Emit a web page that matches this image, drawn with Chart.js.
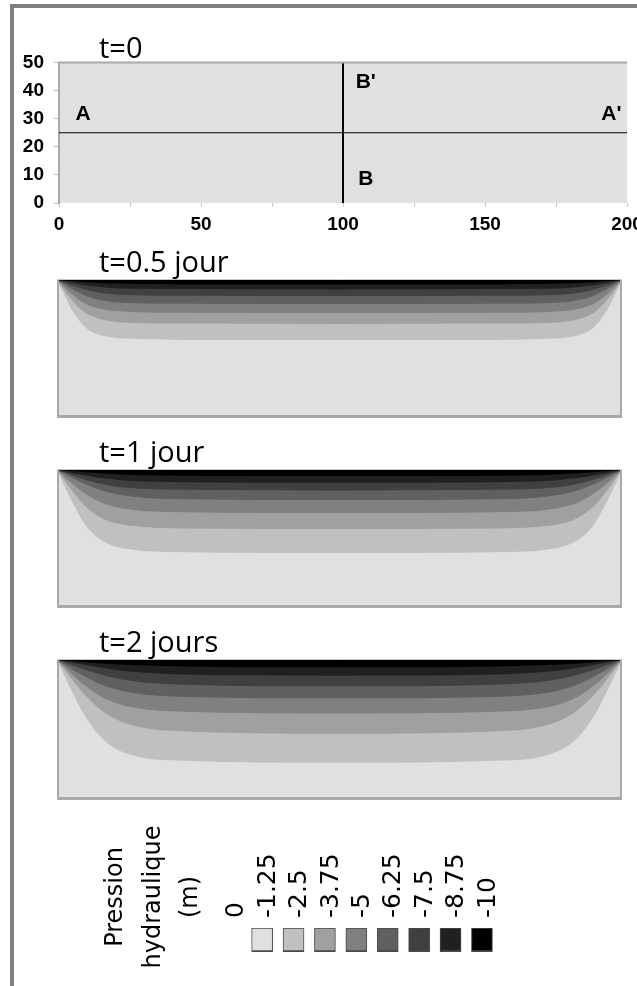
<!DOCTYPE html>
<html>
<head>
<meta charset="utf-8">
<script src="https://cdn.jsdelivr.net/npm/chart.js@4.4.0/dist/chart.umd.min.js"></script>
<style>
  html, body { margin: 0; padding: 0; background: #fff; overflow: hidden; }
  body { width: 637px; height: 986px; position: relative; }
  .bar { position: absolute; background: #7f7f7f; }
  canvas { position: absolute; left: 0; }
</style>
</head>
<body>
<div class="bar" style="left:10px; top:4px; width:627px; height:4px"></div>
<div class="bar" style="left:10px; top:4px; width:4px; height:982px"></div>
<canvas id="c0" width="637" height="240" style="top:0px"></canvas>
<canvas id="c1" width="637" height="200" style="top:220px"></canvas>
<canvas id="c2" width="637" height="200" style="top:410px"></canvas>
<canvas id="c3" width="637" height="200" style="top:600px"></canvas>
<canvas id="c4" width="637" height="186" style="top:800px"></canvas>
<script>
// section lines of the t=0 domain
const sectionAX = [0, 200];
const sectionAY = [25, 25];
const sectionBX = [100, 100];
const sectionBY = [0, 50];
const crossLabels = ['A', "A'", "B'", 'B'];
const crossLabelX = [8.5, 194.5, 108, 108];
const crossLabelY = [29.4, 29.4, 41.1, 6.4];

// x positions (m) where the contour lines were read
const xGrid = [0, 2, 5, 10, 17, 27, 45, 100, 155, 173, 183, 190, 195, 198, 200];

// contour lines -1.25 ... -8.75 (height y in m)
const contours05 = [
  [50, 45.7, 39.6, 32.9, 29.6, 28.7, 28.3, 28.3, 28.3, 28.7, 29.6, 32.9, 39.6, 45.7, 50],
  [50, 47.1, 43.0, 38.1, 35.4, 34.4, 34.2, 34.1, 34.2, 34.4, 35.4, 38.1, 43.0, 47.1, 50],
  [50, 48.0, 45.1, 41.4, 39.2, 38.4, 38.1, 38.0, 38.1, 38.4, 39.2, 41.4, 45.1, 48.0, 50],
  [50, 48.7, 46.9, 44.3, 42.4, 41.6, 41.4, 41.3, 41.4, 41.6, 42.4, 44.3, 46.9, 48.7, 50],
  [50, 49.2, 48.1, 46.5, 45.1, 44.5, 44.3, 44.2, 44.3, 44.5, 45.1, 46.5, 48.1, 49.2, 50],
  [50, 49.6, 49.0, 48.1, 47.3, 46.8, 46.7, 46.6, 46.7, 46.8, 47.3, 48.1, 49.0, 49.6, 50],
  [50, 49.8, 49.6, 49.2, 48.8, 48.6, 48.4, 48.4, 48.4, 48.6, 48.8, 49.2, 49.6, 49.8, 50]
];
const contours1 = [
  [50, 45.5, 39.2, 30.1, 23.8, 21.1, 20.2, 19.9, 20.2, 21.1, 23.8, 30.1, 39.2, 45.5, 50],
  [50, 47.2, 42.9, 36.9, 32.0, 29.7, 28.8, 28.6, 28.8, 29.7, 32.0, 36.9, 42.9, 47.2, 50],
  [50, 48.1, 45.5, 41.4, 37.7, 35.5, 34.7, 34.4, 34.7, 35.5, 37.7, 41.4, 45.5, 48.1, 50],
  [50, 48.9, 47.3, 44.8, 42.2, 40.3, 39.4, 39.1, 39.4, 40.3, 42.2, 44.8, 47.3, 48.9, 50],
  [50, 49.3, 48.2, 46.5, 44.7, 43.4, 42.8, 42.6, 42.8, 43.4, 44.7, 46.5, 48.2, 49.3, 50],
  [50, 49.6, 48.9, 48.0, 46.9, 46.0, 45.6, 45.4, 45.6, 46.0, 46.9, 48.0, 48.9, 49.6, 50],
  [50, 49.8, 49.6, 49.2, 48.7, 48.2, 47.9, 47.8, 47.9, 48.2, 48.7, 49.2, 49.6, 49.8, 50]
];
const contours2 = [
  [50, 45.6, 39.4, 29.8, 21.0, 15.9, 14.0, 13.3, 14.0, 15.9, 21.0, 29.8, 39.4, 45.6, 50],
  [50, 47.4, 43.4, 37.4, 31.1, 26.6, 24.5, 23.7, 24.5, 26.6, 31.1, 37.4, 43.4, 47.4, 50],
  [50, 48.1, 45.2, 40.8, 36.2, 33.0, 31.5, 30.9, 31.5, 33.0, 36.2, 40.8, 45.2, 48.1, 50],
  [50, 48.8, 46.9, 44.0, 40.7, 38.2, 36.8, 36.3, 36.8, 38.2, 40.7, 44.0, 46.9, 48.8, 50],
  [50, 49.3, 48.2, 46.4, 44.4, 42.4, 41.2, 40.6, 41.2, 42.4, 44.4, 46.4, 48.2, 49.3, 50],
  [50, 49.6, 49.1, 48.2, 47.0, 45.8, 44.8, 44.4, 44.8, 45.8, 47.0, 48.2, 49.1, 49.6, 50],
  [50, 49.8, 49.6, 49.2, 48.7, 48.2, 47.7, 47.4, 47.7, 48.2, 48.7, 49.2, 49.6, 49.8, 50]
];

// legend
const legendTicks = ['0', '-1.25', '-2.5', '-3.75', '-5', '-6.25', '-7.5', '-8.75', '-10'];
const legendColors = ['#e0e0e0', '#c0c0c0', '#a0a0a0', '#808080', '#606060', '#404040', '#202020', '#000000'];
const legendTitle = ['Pression', 'hydraulique', '(m)'];

Chart.defaults.font.family = "'Liberation Sans', Arial, sans-serif";
Chart.defaults.color = '#000';

const titleFont = "29px 'Open Sans', sans-serif";

function deco(title, titleDy, boxed) {
    return {
        id: 'deco',
        beforeDraw(chart) {
            const {ctx, chartArea: a} = chart;
            ctx.save();
            ctx.fillStyle = '#e0e0e0';
            ctx.fillRect(a.left, a.top, a.right - a.left, a.bottom - a.top);
            ctx.restore();
        },
        afterDraw(chart) {
            const {ctx, chartArea: a} = chart;
            ctx.save();
            if (boxed) {
                ctx.strokeStyle = '#a8a8a8';
                ctx.lineWidth = 2;
                ctx.beginPath();
                ctx.moveTo(a.left + 1, a.top);
                ctx.lineTo(a.left + 1, a.bottom);
                ctx.moveTo(a.right - 1, a.top);
                ctx.lineTo(a.right - 1, a.bottom);
                ctx.stroke();
                ctx.lineWidth = 3;
                ctx.beginPath();
                ctx.moveTo(a.left, a.bottom - 1.5);
                ctx.lineTo(a.right, a.bottom - 1.5);
                ctx.stroke();
                ctx.strokeStyle = '#c8c8c8';
                ctx.lineWidth = 1;
                ctx.beginPath();
                ctx.moveTo(a.left, a.top - 0.5);
                ctx.lineTo(a.right, a.top - 0.5);
                ctx.stroke();
            } else {
                ctx.strokeStyle = '#a8a8a8';
                ctx.lineWidth = 2;
                ctx.beginPath();
                ctx.moveTo(a.left, a.top);
                ctx.lineTo(a.right, a.top);
                ctx.stroke();
            }
            ctx.fillStyle = '#000';
            ctx.font = titleFont;
            ctx.textAlign = 'left';
            ctx.textBaseline = 'alphabetic';
            ctx.fillText(title, 99, a.top + titleDy);
            ctx.restore();
        }
    };
}

const crossText = {
    id: 'crossText',
    afterDatasetsDraw(chart) {
        const {ctx, scales: {x, y}} = chart;
        ctx.save();
        ctx.fillStyle = '#000';
        ctx.font = "bold 21px 'Liberation Sans', Arial, sans-serif";
        ctx.textAlign = 'center';
        ctx.textBaseline = 'alphabetic';
        crossLabels.forEach((t, i) => {
            ctx.fillText(t, x.getPixelForValue(crossLabelX[i]), y.getPixelForValue(crossLabelY[i]));
        });
        ctx.restore();
    }
};

// t=0
new Chart(document.getElementById('c0'), {
    type: 'line',
    data: {
        datasets: [{
            data: sectionAX.map((v, i) => ({x: v, y: sectionAY[i]})),
            borderColor: '#000',
            borderWidth: 1,
            pointRadius: 0
        }, {
            data: sectionBX.map((v, i) => ({x: v, y: sectionBY[i]})),
            borderColor: '#000',
            borderWidth: 2,
            pointRadius: 0
        }]
    },
    options: {
        responsive: false,
        animation: false,
        events: [],
        layout: {padding: {left: 0, right: 10, top: 62.5, bottom: 0}},
        plugins: {legend: {display: false}, tooltip: {enabled: false}},
        scales: {
            x: {
                type: 'linear', min: 0, max: 200,
                ticks: {
                    stepSize: 25, autoSkip: false, maxRotation: 0, padding: 6,
                    font: {size: 19, weight: 'bold'},
                    callback: v => (v % 50 === 0 ? v : '')
                },
                grid: {drawOnChartArea: false, tickLength: 4, tickColor: '#c8c8c8'},
                border: {display: false},
                afterFit: s => { s.height = 37; s.paddingLeft = 0; s.paddingRight = 0; }
            },
            y: {
                type: 'linear', min: 0, max: 50,
                ticks: {stepSize: 10, padding: 10, font: {size: 19, weight: 'bold'}},
                grid: {drawOnChartArea: false, tickLength: 5, tickColor: '#b8b8b8'},
                border: {color: '#a8a8a8', width: 2},
                afterFit: s => { s.width = 59; s.paddingTop = 0; s.paddingBottom = 0; }
            }
        }
    },
    plugins: [deco('t=0', -5, false), crossText]
});

function panel(id, title, curves, bottomPad) {
    new Chart(document.getElementById(id), {
        type: 'line',
        data: {
            datasets: curves.map((ys, k) => ({
                data: xGrid.map((x, i) => ({x: x, y: ys[i]})),
                fill: 'end',
                backgroundColor: legendColors[k + 1],
                borderColor: 'transparent',
                borderWidth: 0,
                pointRadius: 0,
                cubicInterpolationMode: 'monotone'
            })).reverse()
        },
        options: {
            responsive: false,
            animation: false,
            events: [],
            layout: {padding: {left: 57, right: 15, top: 60, bottom: bottomPad}},
            plugins: {legend: {display: false}, tooltip: {enabled: false}},
            scales: {
                x: {type: 'linear', min: 0, max: 200, display: false},
                y: {type: 'linear', min: 0, max: 50, display: false}
            }
        },
        plugins: [deco(title, -8, true)]
    });
}

panel('c1', 't=0.5 jour', contours05, 2);
panel('c2', 't=1 jour', contours1, 2);
panel('c3', 't=2 jours', contours2, 0);

// legend
const legendText = {
    id: 'legendText',
    afterDraw(chart) {
        const {ctx} = chart;
        const xs = [122, 160, 197];
        ctx.save();
        ctx.fillStyle = '#000';
        ctx.font = "24px 'DejaVu Sans', sans-serif";
        ctx.textAlign = 'center';
        ctx.textBaseline = 'alphabetic';
        legendTitle.forEach((t, i) => {
            ctx.save();
            ctx.translate(xs[i], 97);
            ctx.rotate(-Math.PI / 2);
            ctx.fillText(t, 0, 0);
            ctx.restore();
        });
        ctx.restore();
    }
};

new Chart(document.getElementById('c4'), {
    type: 'bar',
    data: {
        datasets: [{
            data: legendColors.map((c, i) => ({x: i + 0.5, y: 1})),
            backgroundColor: legendColors,
            borderColor: '#4a4a4a',
            borderWidth: {top: 1, left: 1, right: 1, bottom: 2},
            borderSkipped: false,
            barThickness: 21
        }]
    },
    options: {
        responsive: false,
        animation: false,
        events: [],
        layout: {padding: {left: 237, right: 107, top: 0, bottom: 34}},
        plugins: {legend: {display: false}, tooltip: {enabled: false}},
        scales: {
            x: {type: 'linear', min: -0.3, max: 9.03, offset: false, display: false},
            x2: {
                type: 'linear', position: 'top', min: -0.95, max: 8.38, offset: false,
                ticks: {
                    stepSize: 1, includeBounds: false, autoSkip: false,
                    minRotation: 90, maxRotation: 90, padding: 10,
                    font: {family: "'DejaVu Sans', sans-serif", size: 25},
                    callback: v => (Number.isInteger(v) && v >= 0 ? legendTicks[v] : '')
                },
                grid: {display: false, drawTicks: false, offset: false},
                border: {display: false},
                afterFit: s => { s.height = 128; s.paddingLeft = 0; s.paddingRight = 0; }
            },
            y: {min: 0, max: 1, display: false}
        }
    },
    plugins: [legendText]
});
</script>
</body>
</html>
